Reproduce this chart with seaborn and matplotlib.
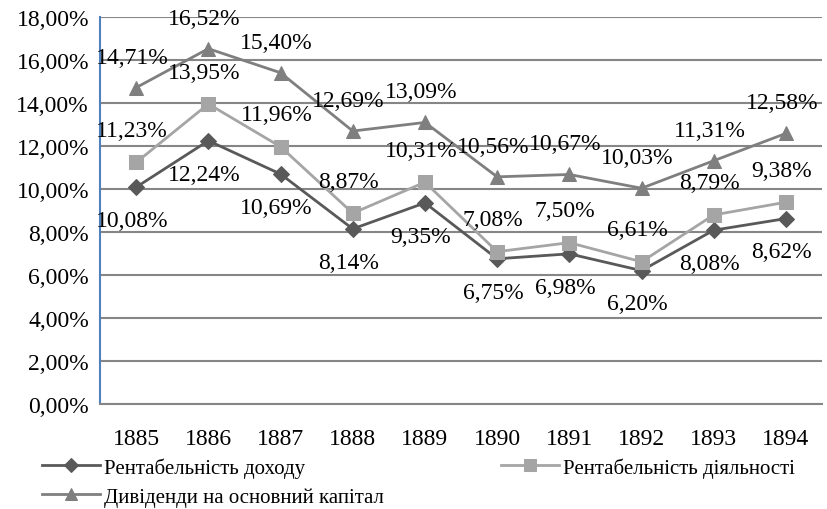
import pandas as pd
import matplotlib.pyplot as plt
import seaborn as sns
from matplotlib import font_manager as fm

years = [1885, 1886, 1887, 1888, 1889, 1890, 1891, 1892, 1893, 1894]
rent_dohodu = [10.08, 12.24, 10.69, 8.14, 9.35, 6.75, 6.98, 6.20, 8.08, 8.62]
rent_diyalnosti = [11.23, 13.95, 11.96, 8.87, 10.31, 7.08, 7.50, 6.61, 8.79, 9.38]
dyvidendy = [14.71, 16.52, 15.40, 12.69, 13.09, 10.56, 10.67, 10.03, 11.31, 12.58]

names = ['Рентабельність доходу', 'Рентабельність діяльності',
         'Дивіденди на основний капітал']

# шрифт беремо прямо з файлу
serif_path = fm.findfont('Liberation Serif')
plt.rcParams['font.family'] = 'Liberation Serif'
fp_big = fm.FontProperties(fname=serif_path, size=17)
fp_leg = fm.FontProperties(fname=serif_path, size=15)

fig = plt.figure(figsize=(8.27, 5.10), dpi=100)
ax = fig.add_axes([0.121, 0.206, 0.873, 0.759])

# (values, color, marker, marker size, label offset in points)
series = [
    (rent_dohodu, '#595959', 'D', 8, -24),
    (rent_diyalnosti, '#A5A5A5', 's', 10, 23),
    (dyvidendy, '#7F7F7F', '^', 10, 22),
]

for (vals, col, mk, ms, dy), name in zip(series, names):
    df = pd.DataFrame({'year': years, 'val': vals})
    sns.lineplot(data=df, x='year', y='val', ax=ax, color=col, marker=mk,
                 markersize=ms, markeredgecolor=col, linewidth=2, label=name,
                 legend=False)
    for x, v in zip(years, vals):
        ax.annotate(f'{v:.2f}%'.replace('.', ','), (x, v), xytext=(-3, dy),
                    textcoords='offset points', ha='center', va='center',
                    color='black', fontproperties=fp_big)

ax.set_xlim(1884.5, 1894.5)
ax.set_ylim(0, 18)
ax.set_yticks(range(0, 19, 2))
ax.set_yticklabels([f'{t},00%' for t in range(0, 19, 2)], fontproperties=fp_big)
ax.set_xticks(years)
ax.set_xticklabels([str(y) for y in years], fontproperties=fp_big)
ax.tick_params(axis='x', pad=17, length=0)
ax.tick_params(axis='y', pad=8, length=0)
ax.set_xlabel('')
ax.set_ylabel('')
ax.grid(axis='y', color='#868686', linewidth=1.5)
ax.set_axisbelow(True)
for s in ['top', 'right']:
    ax.spines[s].set_visible(False)
ax.spines['bottom'].set_color('#868686')
ax.spines['bottom'].set_linewidth(1.5)
ax.spines['left'].set_color('#4F81BD')
ax.spines['left'].set_linewidth(1.5)

h, l = ax.get_legend_handles_labels()
order = [0, 2, 1]
leg = fig.legend([h[i] for i in order], [l[i] for i in order], ncol=2,
                 loc='upper left', bbox_to_anchor=(0.038, 0.122), frameon=False,
                 prop=fp_leg, handlelength=2.8, handletextpad=0.2,
                 columnspacing=5.6, labelspacing=0.45, borderpad=0,
                 markerscale=0.85)

plt.savefig('out.png', dpi=100)
